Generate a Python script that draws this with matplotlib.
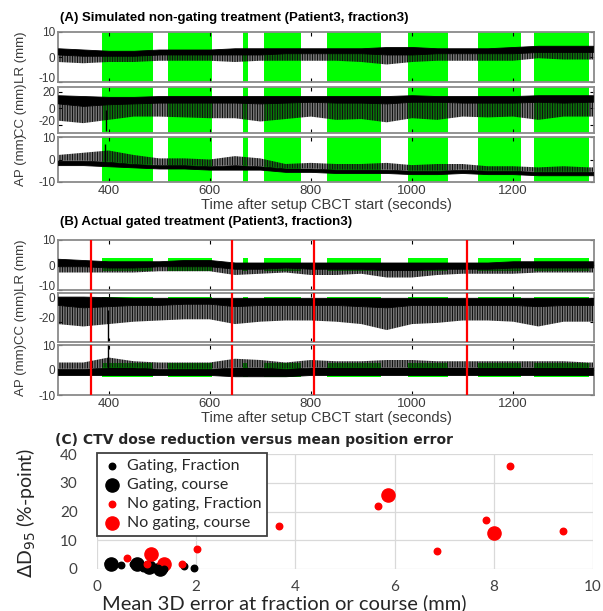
import numpy as np
import matplotlib
matplotlib.use("Agg")
import matplotlib.pyplot as plt

plt.rcParams['axes.unicode_minus'] = False
plt.rcParams['hatch.linewidth'] = 0.9

# ---- data ----
# beam-on (gating window) periods, seconds after CBCT start
beam_start = [388, 518, 666, 708, 832, 993, 1131, 1241]
beam_end = [488, 605, 676, 780, 939, 1072, 1216, 1351]
# beam interruptions (red lines) in the gated treatment
red_times = [365, 645, 806, 1108]

# breathing trace envelopes, sampled every 50 s
t_env = [300, 350, 400, 450, 500, 550, 600, 650, 700, 750, 800, 850,
         900, 950, 1000, 1050, 1100, 1150, 1200, 1250, 1300, 1350, 1358]

# (A) non-gating: LR
a_lr_hi = [3.5, 3, 2.5, 2.5, 3, 3, 3, 3.5, 3.5, 3.5, 3.5, 3.5, 3.5, 4, 4, 3.5, 3.5, 3.5, 4, 4.5, 4.5, 4.5, 4.5]
a_lr_core = [1, 0.5, 0.5, 0.5, 1, 1, 1, 1, 1, 1.5, 1.5, 1.5, 1.5, 1, 1, 1.5, 1.5, 1.5, 1.5, 2, 2, 2, 2]
a_lr_spk = [-2, -2.5, -2, -2, -1.5, -1.5, -1.5, -2, -1.5, -1.5, -1.5, -1.5, -2, -3, -2, -1.5, -1.5, -1.5, -1.5, -0.5, -1, -1, -1]
# (A) CC
a_cc_hi = [16, 15, 14, 14, 15, 15, 15, 15, 15, 15, 15, 15, 15, 15, 16, 15, 15, 15, 15, 16, 16, 16, 16]
a_cc_core = [6, 3, 5, 6, 7, 7, 7, 7, 6, 7, 8, 7, 7, 6, 8, 8, 7, 7, 7, 8, 7, 8, 8]
a_cc_spk = [-15, -18, -14, -10, -10, -11, -12, -12, -16, -13, -10, -14, -13, -17, -12, -14, -10, -11, -10, -14, -10, -10, -10]
# (A) AP (spikes go up)
a_ap_lo = [-2.5, -2.5, -3, -3.5, -4, -4, -4.5, -4.5, -4.5, -5.5, -5.5, -6, -6, -6, -6.5, -6.5, -6, -6.5, -6.5, -7, -7, -7, -7]
a_ap_core = [-0.5, -0.5, -1, -2, -2.5, -2.5, -3, -2.5, -3, -4, -4, -4.5, -4.5, -4.5, -5, -5, -4.5, -5, -5, -5.5, -5.5, -5.5, -5.5]
a_ap_spk = [2, 3, 4, 2, 0.5, 0.5, 0, 1.5, 0.5, -2, -1.5, -2, -2, -1.5, -2.5, -2, -2, -3, -3, -3.5, -3, -3.5, -3.5]

# (B) gated: LR
b_lr_hi = [2.5, 2, 1.5, 1.5, 1.5, 2, 2, 1, 1, 1, 1, 1, 1, 1, 1, 1, 1, 1, 1.5, 1.5, 1.5, 1.5, 1.5]
b_lr_core = [-0.5, -0.5, -1, -1, -0.5, -0.5, -0.5, -1.5, -1.5, -1, -1.5, -1.5, -1.5, -2, -2, -1.5, -1.5, -1.5, -1, -1, -1, -1, -1]
b_lr_spk = [-3, -3, -3, -3, -2.5, -2.5, -2.5, -4, -3.5, -3, -4, -4, -3.5, -5, -5, -4, -3.5, -3.5, -3.5, -3, -3, -3, -3]
# (B) CC
b_cc_hi = [1, 1, 0.5, 0, 0, 0, 0, 0, 0, 0, 0, 0, 0, 0, 0, 0, 0, 0, 0, 0, 0, 0, 0]
b_cc_core = [-6, -8, -7, -6, -6, -5, -5, -7, -6, -6, -6, -6, -7, -8, -6, -6, -6, -6, -6, -7, -6, -6, -6]
b_cc_spk = [-22, -24, -22, -20, -19, -18, -18, -22, -20, -19, -19, -20, -22, -27, -22, -21, -19, -19, -20, -24, -20, -20, -20]
# (B) AP
b_ap_lo = [-2, -2, -2, -2, -2, -2, -2, -2.5, -2.5, -2.5, -2, -2, -2, -2, -2, -2, -2, -2, -2, -2, -2, -2, -2]
b_ap_core = [0.5, 0.5, 1, 1, 0.5, 0.5, 0.5, 1, 1, 0.5, 1, 1, 1, 1, 1, 1, 1, 1, 1, 1, 1, 1, 1]
b_ap_spk = [3, 3, 5, 3.5, 3, 3, 3, 4.5, 4, 3, 4, 3.5, 3.5, 4, 4, 3.5, 3.5, 3.5, 3.5, 3.5, 3.5, 3, 3]

# single large excursions (time, from, to)
a_cc_jump = (395, -2, -28)
a_ap_jump = (392, -2, 7)
b_cc_jump = (398, -10, -36)
b_ap_jump = (398, 0, 10)

# gating windows shown as green bars in (B)
win_lr = (-2.5, 3)
win_cc = (-4.5, 0.5)
win_ap = (-2.7, 3)

# (C) scatter
gate_frac_x = [0.22, 0.35, 0.48, 0.72, 0.92, 1.0, 1.12, 1.22, 1.35, 1.75, 1.95]
gate_frac_y = [2.2, 1.6, 1.3, 1.9, 0.3, 1.2, 0.6, 0.2, 0.1, 1.2, 0.3]
gate_course_x = [0.28, 0.80, 1.05, 1.28]
gate_course_y = [1.9, 1.6, 0.8, 0.1]
nogate_frac_x = [0.6, 1.0, 1.72, 2.02, 3.66, 5.67, 6.85, 7.84, 8.33, 9.40]
nogate_frac_y = [3.8, 1.8, 1.6, 6.8, 14.8, 22.0, 6.2, 16.9, 36.0, 13.1]
nogate_course_x = [1.08, 1.35, 5.87, 8.0]
nogate_course_y = [5.1, 1.6, 25.8, 12.4]

GREEN = '#00ff00'
FRAME = '#8a8a8a'
TXT = '#3a3a3a'
ARIAL = 'Liberation Sans'

fig = plt.figure(figsize=(6.03, 6.11), dpi=100)

W = 603.0
H = 611.0


def box(l, t, r, b):
    return [l / W, 1 - b / H, (r - l) / W, (b - t) / H]


def style_trace_ax(ax, ylim, yticks, ylabel, xlabels):
    ax.set_xlim(300, 1360)
    ax.set_ylim(*ylim)
    ax.set_yticks(yticks)
    ax.set_xticks([400, 600, 800, 1000, 1200])
    ax.tick_params(direction='in', length=3, width=0.8, top=True, right=True,
                   labelcolor=TXT, color='black', pad=2)
    if not xlabels:
        ax.set_xticklabels([])
    for s in ax.spines.values():
        s.set_color(FRAME)
        s.set_linewidth(1.3)
    ax.set_ylabel(ylabel, fontsize=9.5, color=TXT, family=ARIAL)
    ax.yaxis.set_label_coords(-0.058, 0.5)
    for lab in ax.get_xticklabels():
        lab.set_family(ARIAL)
        lab.set_fontsize(9.5)
    for lab in ax.get_yticklabels():
        lab.set_family(ARIAL)
        lab.set_fontsize(8.5)
    if not xlabels:
        # lowest label sits on the baseline so it clears the panel below
        ax.yaxis.get_major_ticks()[0].label1.set_verticalalignment('baseline')


def draw_down(ax, hi, core, spk):
    ax.fill_between(t_env, spk, core, facecolor='none', edgecolor='#111111',
                    hatch='||||||||||', linewidth=0, zorder=2)
    ax.fill_between(t_env, core, hi, color='black', linewidth=0.6, zorder=3)


def draw_up(ax, lo, core, spk):
    ax.fill_between(t_env, core, spk, facecolor='none', edgecolor='#111111',
                    hatch='||||||||||', linewidth=0, zorder=2)
    ax.fill_between(t_env, lo, core, color='black', linewidth=0.6, zorder=3)


def jump(ax, j):
    ax.vlines(j[0], j[1], j[2], color='black', linewidth=1.0, zorder=3)


# ---------- (A) simulated non-gating ----------
a1 = fig.add_axes(box(58, 32, 594, 82))
a2 = fig.add_axes(box(58, 87, 594, 133))
a3 = fig.add_axes(box(58, 137, 594, 182))
for ax in (a1, a2, a3):
    for s, e in zip(beam_start, beam_end):
        ax.axvspan(s, e, color=GREEN, linewidth=0, zorder=0)
draw_down(a1, a_lr_hi, a_lr_core, a_lr_spk)
draw_down(a2, a_cc_hi, a_cc_core, a_cc_spk)
draw_up(a3, a_ap_lo, a_ap_core, a_ap_spk)
jump(a2, a_cc_jump)
jump(a3, a_ap_jump)
style_trace_ax(a1, (-10, 10), [-10, 0, 10], 'LR (mm)', False)
style_trace_ax(a2, (-30, 26), [-20, 0, 20], 'CC (mm)', False)
style_trace_ax(a3, (-10, 10), [-10, 0, 10], 'AP (mm)', True)
a3.set_xlabel('Time after setup CBCT start (seconds)', fontsize=10.5,
              color=TXT, family=ARIAL, labelpad=1)
fig.text(60 / W, 1 - 18 / H, '(A) Simulated non-gating treatment (Patient3, fraction3)',
         fontsize=9.5, fontweight='bold', family=ARIAL, va='center', ha='left')

# ---------- (B) actual gated ----------
b1 = fig.add_axes(box(58, 240, 594, 290))
b2 = fig.add_axes(box(58, 293, 594, 342))
b3 = fig.add_axes(box(58, 345, 594, 395))
for ax, win in ((b1, win_lr), (b2, win_cc), (b3, win_ap)):
    for s, e in zip(beam_start, beam_end):
        ax.fill_between([s, e], win[0], win[1], color=GREEN, linewidth=0, zorder=1)
draw_down(b1, b_lr_hi, b_lr_core, b_lr_spk)
draw_down(b2, b_cc_hi, b_cc_core, b_cc_spk)
draw_up(b3, b_ap_lo, b_ap_core, b_ap_spk)
jump(b2, b_cc_jump)
jump(b3, b_ap_jump)
style_trace_ax(b1, (-10, 10), [-10, 0, 10], 'LR (mm)', False)
style_trace_ax(b2, (-37, 4), [-20, 0], 'CC (mm)', False)
style_trace_ax(b3, (-10, 10), [-10, 0, 10], 'AP (mm)', True)
for ax in (b1, b2, b3):
    for rt in red_times:
        ax.axvline(rt, color='red', linewidth=1.6, zorder=5)
b3.set_xlabel('Time after setup CBCT start (seconds)', fontsize=10.5,
              color=TXT, family=ARIAL, labelpad=1)
fig.text(60 / W, 1 - 222 / H, '(B) Actual gated treatment (Patient3, fraction3)',
         fontsize=9.5, fontweight='bold', family=ARIAL, va='center', ha='left')

# ---------- (C) dose reduction vs error ----------
c = fig.add_axes(box(97, 454, 593, 569))
c.set_xlim(0, 10)
c.set_ylim(0, 40)
c.set_xticks([0, 2, 4, 6, 8, 10])
c.set_yticks([0, 10, 20, 30, 40])
c.grid(True, color='#d9d9d9', linewidth=0.9)
c.set_axisbelow(True)
for s in c.spines.values():
    s.set_visible(False)
c.tick_params(length=0, labelsize=11, labelcolor='#404040', pad=8)
c.tick_params(axis='y', pad=14)
for lab in c.get_xticklabels() + c.get_yticklabels():
    lab.set_family('Lato')

c.scatter(gate_frac_x, gate_frac_y, s=22, color='black', label='Gating, Fraction',
          clip_on=False, zorder=4)
c.scatter(gate_course_x, gate_course_y, s=90, color='black', label='Gating, course',
          clip_on=False, zorder=3)
c.scatter(nogate_frac_x, nogate_frac_y, s=22, color='red', label='No gating, Fraction',
          clip_on=False, zorder=4)
c.scatter(nogate_course_x, nogate_course_y, s=90, color='red', label='No gating, course',
          clip_on=False, zorder=3)
leg = c.legend(loc='upper left', bbox_to_anchor=(0, 1.005), borderaxespad=0,
               fancybox=False, framealpha=1, edgecolor='#404040',
               prop={'family': 'Lato', 'size': 11.5}, handletextpad=0.3,
               labelspacing=0.3, borderpad=0.35, handlelength=1.2, scatterpoints=1)
leg.get_frame().set_linewidth(1.3)
for tx in leg.get_texts():
    tx.set_color('#262626')

fig.text(55 / W, 1 - 440 / H, '(C) CTV dose reduction versus mean position error',
         fontsize=10, fontweight='bold', family='DejaVu Sans', va='center', ha='left',
         color='#262626')
fig.text(284 / W, 1 - 603 / H, 'Mean 3D error at fraction or course (mm)',
         fontsize=14.5, family='Lato', va='center', ha='center', color='#262626')
fig.text(26 / W, 1 - 513 / H, r'$\Delta$D$_{95}$ (%-point)', fontsize=14,
         family='Lato', rotation=90, va='center', ha='center', color='#262626')

fig.savefig('out.png', dpi=100)
